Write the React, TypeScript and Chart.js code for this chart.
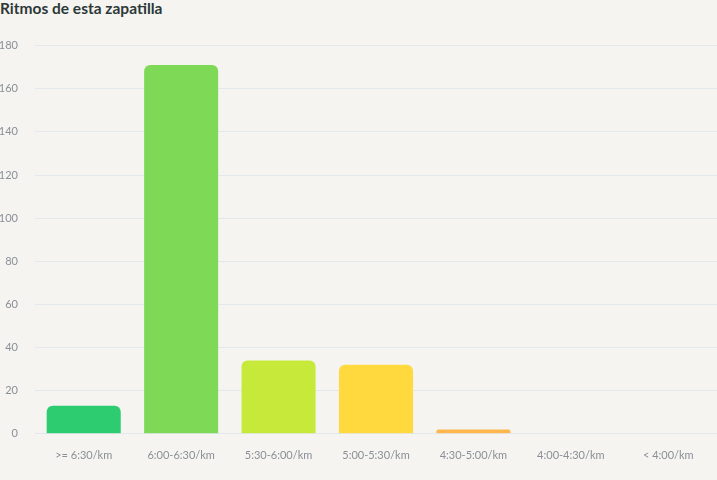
import React, { useEffect, useRef } from 'react';
import Chart from 'chart.js/auto';

const paceLabels = ['>= 6:30/km', '6:00-6:30/km', '5:30-6:00/km', '5:00-5:30/km', '4:30-5:00/km', '4:00-4:30/km', '< 4:00/km'];
const runCounts = [13, 171, 34, 32, 2, 0, 0];
const barColors = ['#2ecc71', '#7ed957', '#c7e93a', '#ffd93d', '#ffb74d', '#ff8a65', '#ff5252'];

const App: React.FC = () => {
    const chartRef = useRef<HTMLCanvasElement>(null);

    useEffect(() => {
        document.body.style.margin = '0';
        document.body.style.background = '#f5f4f0';
        if (!chartRef.current) return;

        const textColor = '#8a8f98';
        const gridColor = '#e3e8ee';

        const chart = new Chart(chartRef.current, {
            type: 'bar',
            data: {
                labels: paceLabels,
                datasets: [{
                    data: runCounts,
                    backgroundColor: barColors,
                    borderRadius: 6,
                    borderSkipped: 'bottom',
                    barPercentage: 0.95,
                    categoryPercentage: 0.8,
                }]
            },
            options: {
                responsive: true,
                maintainAspectRatio: false,
                animation: false,
                layout: { padding: { top: 11, right: 0, bottom: 11, left: 0 } },
                plugins: { legend: { display: false }, tooltip: { enabled: false } },
                scales: {
                    x: {
                        grid: { display: false },
                        border: { display: false },
                        ticks: { color: textColor, font: { family: 'Lato', size: 11 }, padding: 7 }
                    },
                    y: {
                        min: 0,
                        max: 180,
                        afterFit: (scale) => { scale.width = 35; },
                        grid: { color: gridColor, drawTicks: false },
                        border: { display: false },
                        ticks: { stepSize: 20, color: textColor, font: { family: 'Lato', size: 11 }, padding: 17 }
                    }
                }
            }
        });

        return () => chart.destroy();
    }, []);

    return (
        <div style={{ width: 717, height: 480, background: '#f5f4f0', fontFamily: 'Lato, sans-serif' }}>
            <div style={{ height: 22, fontSize: 15.5, fontWeight: 700, color: '#2d3838', lineHeight: '17px' }}>
                Ritmos de esta zapatilla
            </div>
            <div style={{ position: 'relative', height: 458, width: 717 }}>
                <canvas ref={chartRef}></canvas>
            </div>
        </div>
    );
};

export default App;
